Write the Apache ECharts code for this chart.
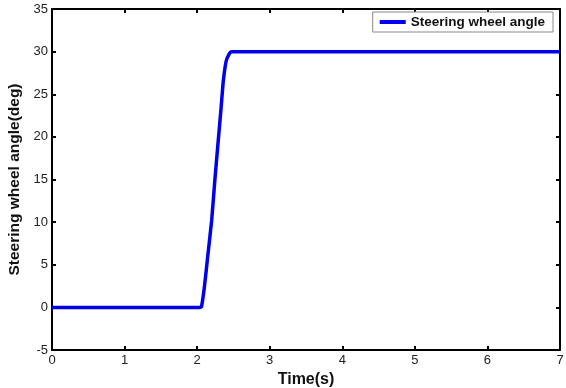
<!DOCTYPE html>
<html>
<head>
<meta charset="utf-8">
<script src="https://cdn.jsdelivr.net/npm/echarts@6/dist/echarts.min.js"></script>
<style>
  html, body { margin: 0; padding: 0; background: #fff; }
  #chart { width: 566px; height: 388px; }
</style>
</head>
<body>
<div id="chart"></div>
<script>
// steering input
const time = [0, 2.04, 2.06, 2.10, 2.15, 2.20, 2.24, 2.29, 2.33, 2.36, 2.40, 2.44, 2.47, 7];
const angle = [0, 0, 0.1, 2.4, 6.3, 10.2, 14.5, 19.5, 23.4, 26.5, 28.9, 29.7, 30, 30];
const seriesName = 'Steering wheel angle';

const font = 'Liberation Sans, Arial, sans-serif';

const chart = echarts.init(document.getElementById('chart'));

const tickStyle = {show: true, inside: true, length: 4, lineStyle: {color: '#000', width: 2}};
const lineStyle = {show: true, onZero: false, lineStyle: {color: '#000', width: 2}};

chart.setOption({
	animation: false,
	backgroundColor: '#fff',
	grid: {left: 52, top: 9, right: 6, bottom: 38, containLabel: false, outerBoundsMode: 'none'},
	legend: {
		data: [seriesName],
		right: 13,
		top: 12,
		padding: [3, 8, 3, 7],
		borderColor: '#888',
		borderWidth: 1,
		backgroundColor: '#fff',
		itemWidth: 26,
		itemHeight: 4,
		itemGap: 8,
		icon: 'rect',
		textStyle: {fontFamily: font, fontWeight: 'bold', fontSize: 13.5, color: '#111'}
	},
	xAxis: [
		{
			type: 'value',
			min: 0, max: 7, interval: 1,
			name: 'Time(s)',
			nameLocation: 'middle',
			nameGap: 20,
			nameTextStyle: {fontFamily: font, fontWeight: 'bold', fontSize: 16, color: '#111'},
			axisLine: lineStyle,
			axisTick: tickStyle,
			axisLabel: {fontFamily: font, fontSize: 13, color: '#222', margin: 4},
			splitLine: {show: false}
		},
		{
			type: 'value', position: 'top',
			min: 0, max: 7, interval: 1,
			axisLine: lineStyle,
			axisTick: tickStyle,
			axisLabel: {show: false},
			splitLine: {show: false}
		}
	],
	yAxis: [
		{
			type: 'value',
			min: -5, max: 35, interval: 5,
			name: 'Steering wheel angle(deg)',
			nameLocation: 'middle',
			nameGap: 24,
			nameTextStyle: {fontFamily: font, fontWeight: 'bold', fontSize: 15.5, color: '#111'},
			axisLine: lineStyle,
			axisTick: tickStyle,
			axisLabel: {fontFamily: font, fontSize: 13, color: '#222', margin: 4},
			splitLine: {show: false}
		},
		{
			type: 'value', position: 'right',
			min: -5, max: 35, interval: 5,
			axisLine: lineStyle,
			axisTick: tickStyle,
			axisLabel: {show: false},
			splitLine: {show: false}
		}
	],
	series: [
		{
			name: seriesName,
			type: 'line',
			data: time.map((t, i) => [t, angle[i]]),
			showSymbol: false,
			smooth: 0.2,
			color: '#0000ee',
			lineStyle: {width: 3.5, color: '#0000ee'}
		}
	]
});
</script>
</body>
</html>
